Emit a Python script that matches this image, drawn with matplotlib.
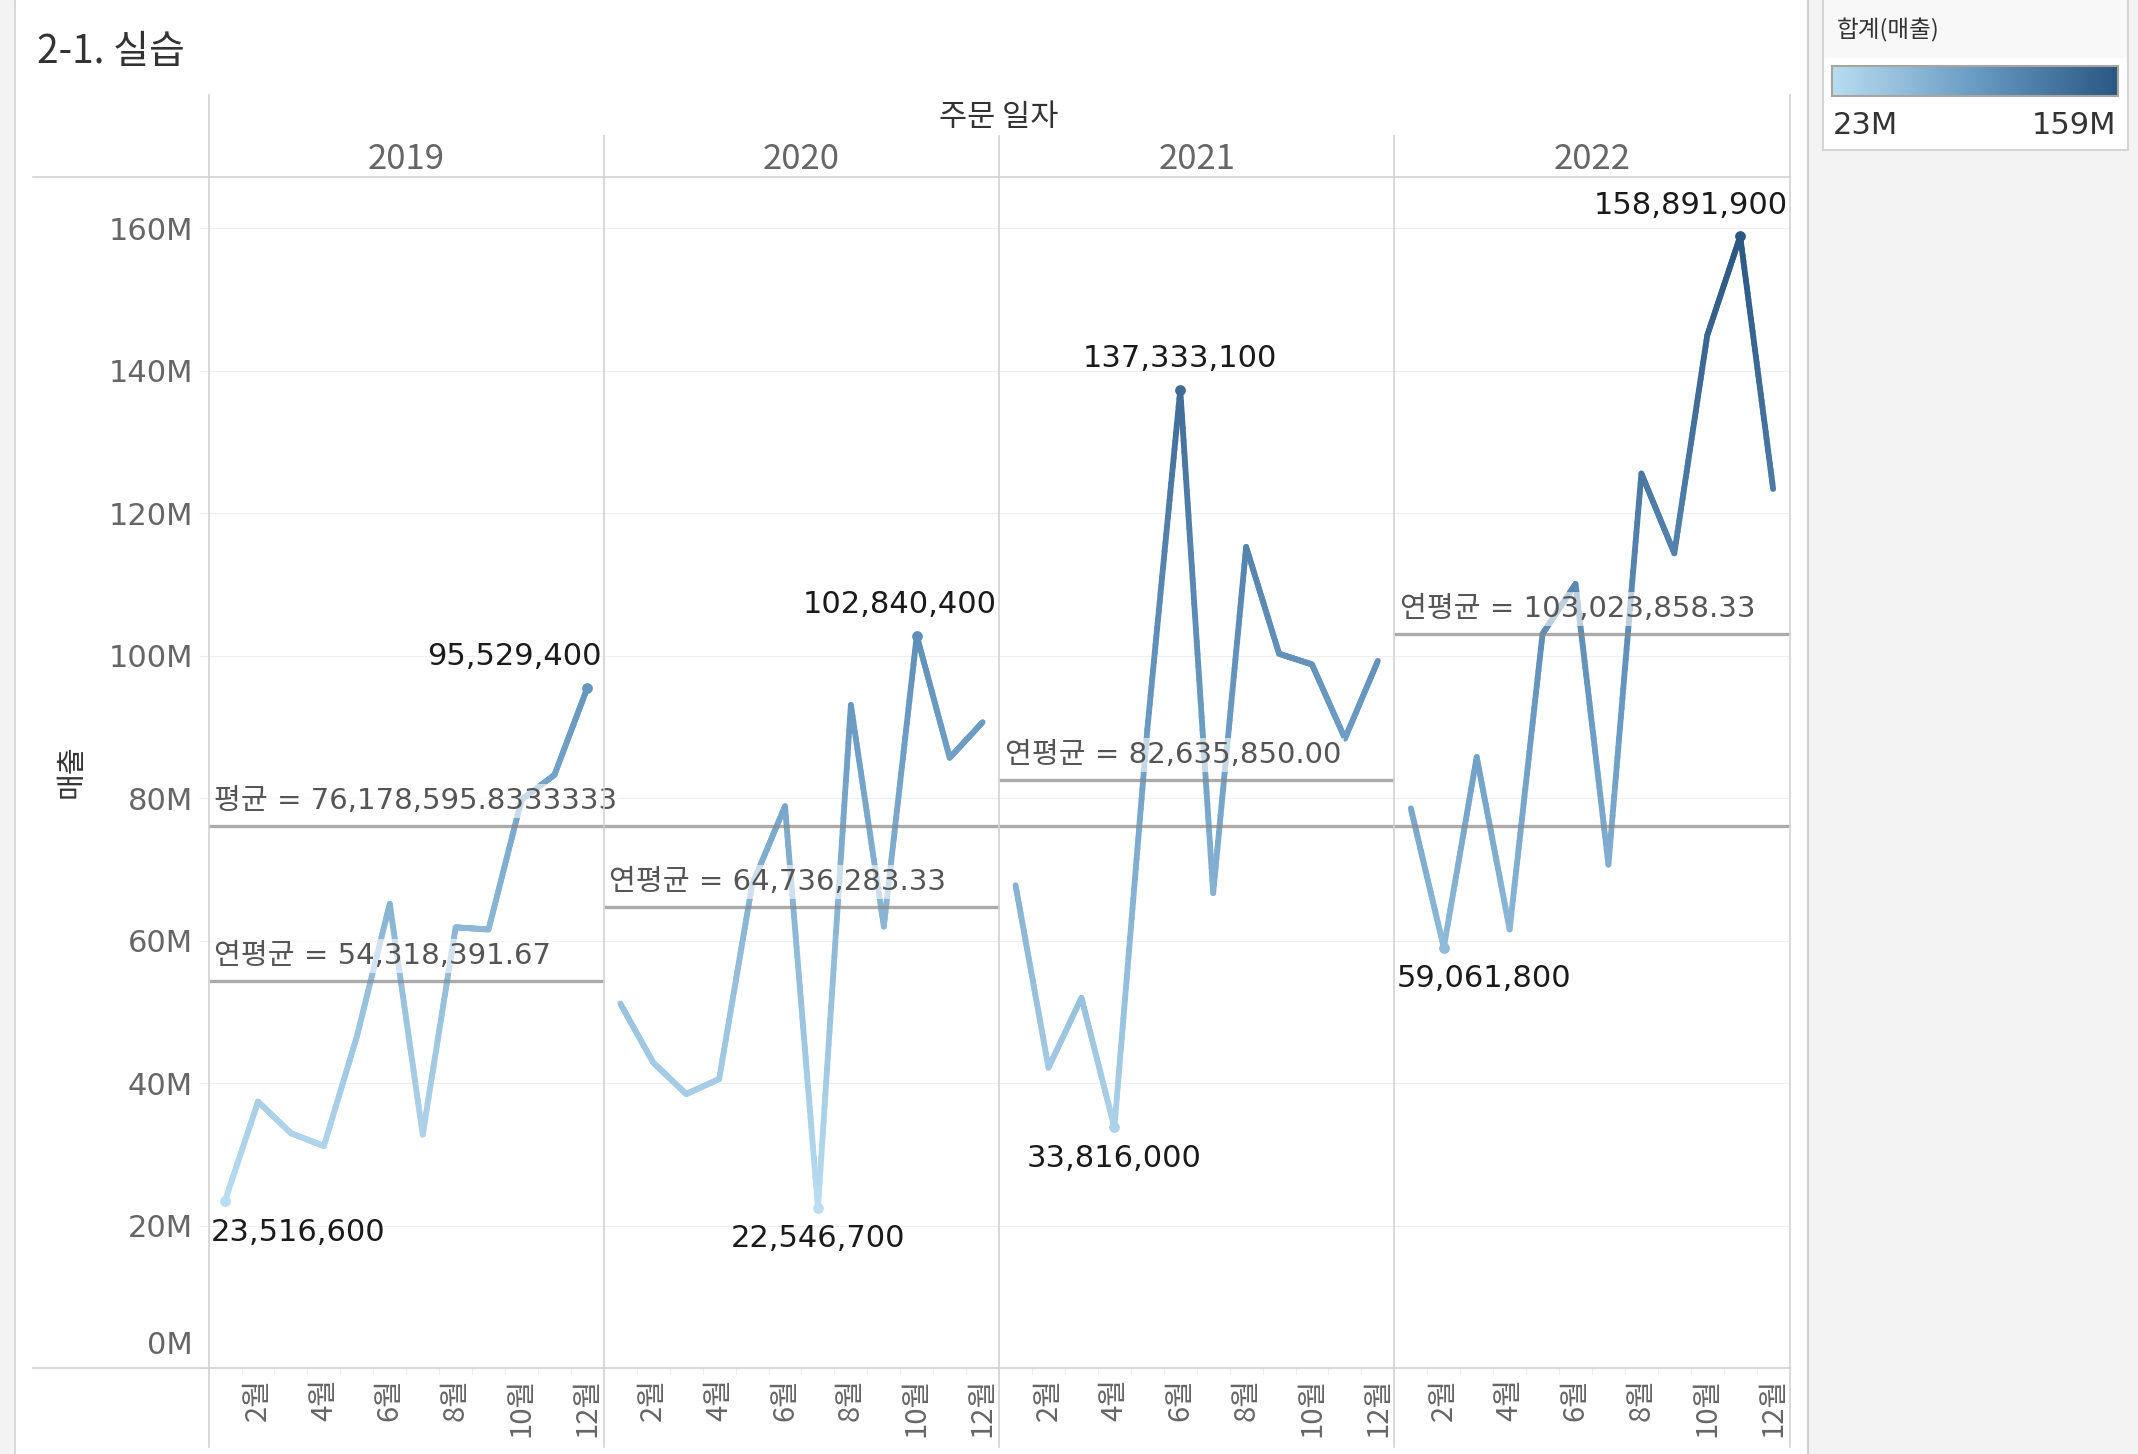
import numpy as np
import matplotlib
matplotlib.use('Agg')
import matplotlib.pyplot as plt
from matplotlib.collections import LineCollection
from matplotlib.colors import LinearSegmentedColormap, Normalize
from matplotlib.lines import Line2D
from matplotlib.patches import Rectangle

plt.rcParams['font.family'] = ['DejaVu Sans', 'Noto Sans CJK KR']

# data (monthly sales per year)
years = ['2019', '2020', '2021', '2022']
month_ticks = [2, 4, 6, 8, 10, 12]
month_labels = ['2월', '4월', '6월', '8월', '10월', '12월']

sales_2019 = [23516600, 37430000, 33000000, 31200000, 46544700, 65200000,
              32800000, 61900000, 61600000, 79800000, 83300000, 95529400]
sales_2020 = [51200000, 42900000, 38500000, 40600000, 67848300, 78900000,
              22546700, 93100000, 62000000, 102840400, 85700000, 90700000]
sales_2021 = [67800000, 42200000, 52000000, 33816000, 89681100, 137333100,
              66700000, 115300000, 100300000, 98800000, 88400000, 99300000]
sales_2022 = [78600000, 59061800, 85800000, 61600000, 103100000, 110100000,
              70700000, 125600000, 114400000, 145000000, 158891900, 123432600]
all_sales = [sales_2019, sales_2020, sales_2021, sales_2022]

W, H = 2138, 1454
fig = plt.figure(figsize=(W / 100, H / 100), dpi=100)


def fx(px):
    return px / W


def fy(py):
    return 1 - py / H


def fline(x0, y0, x1, y1, color='#d2d2d2', lw=1.2):
    fig.add_artist(Line2D([fx(x0), fx(x1)], [fy(y0), fy(y1)], transform=fig.transFigure,
                          color=color, lw=lw))


# background pieces
fig.add_artist(Rectangle((0, 0), fx(14), 1, transform=fig.transFigure, color='#f3f3f3', zorder=0))
fline(15, 0, 15, H, color='#d8d8d8', lw=1.4)
fig.add_artist(Rectangle((fx(1809), 0), 1 - fx(1809), 1, transform=fig.transFigure,
                         color='#f3f3f3', zorder=0))
fline(1808, 0, 1808, H, color='#d0d0d0', lw=1.5)

# main axes
ax_l, ax_r, ax_t, ax_b = 208.6, 1789.6, 176.6, 1368.3
ax = fig.add_axes([fx(ax_l), fy(ax_b), fx(ax_r) - fx(ax_l), (ax_b - ax_t) / H])
ax.set_xlim(0.5, 48.5)
ax.set_ylim(0, 167.28e6)
for s in ax.spines.values():
    s.set_visible(False)

yticks = np.arange(0, 160e6 + 1, 20e6)
for v in yticks[1:]:
    ax.axhline(v, color='#efefef', lw=0.8, zorder=1)
ax.set_yticks(yticks)
ax.set_yticklabels([''] + ['%dM' % (v / 1e6) for v in yticks[1:]])
ax.tick_params(axis='y', length=7.2, width=0.8, color='#ececec', pad=4,
               labelsize=22, labelcolor='#666666')
ax.annotate('0M', xy=(0, 0), xycoords=('axes fraction', 'data'), xytext=(-11.2, 16.5),
            textcoords='offset points', ha='right', va='center', fontsize=22, color='#666666')

xt = [yi * 12 + m for yi in range(len(years)) for m in month_ticks]
ax.set_xticks(xt)
ax.set_xticklabels(month_labels * len(years), rotation=90, family=['Noto Sans CJK KR'])
ax.tick_params(axis='x', length=0, pad=7, labelsize=21, labelcolor='#666666')
ax.set_xticks(np.arange(0.5, 48.6, 1), minor=True)
ax.tick_params(axis='x', which='minor', length=4, width=0.8, color='#ededed')

# colour scale
vmin = min(min(s) for s in all_sales)
vmax = max(max(s) for s in all_sales)
cmap = LinearSegmentedColormap.from_list('tab_blue', ['#b9ddf1', '#6a9bc3', '#2a5783'])
norm = Normalize(vmin, vmax)


def gradient_segments(xs, ys, steps=40):
    segs, vals = [], []
    for i in range(len(xs) - 1):
        tx = np.linspace(xs[i], xs[i + 1], steps + 1)
        ty = np.linspace(ys[i], ys[i + 1], steps + 1)
        for j in range(steps):
            segs.append([(tx[j], ty[j]), (tx[j + 1], ty[j + 1])])
            vals.append((ty[j] + ty[j + 1]) / 2)
    return segs, vals


ref_color = '#888888'
label_anns = []
for yi, vals in enumerate(all_sales):
    xs = yi * 12 + np.arange(1, 13)
    segs, cv = gradient_segments(xs, vals)
    lc = LineCollection(segs, cmap=cmap, norm=norm, linewidths=4.2, capstyle='round', zorder=3)
    lc.set_array(np.array(cv))
    ax.add_collection(lc)

    i_min, i_max = int(np.argmin(vals)), int(np.argmax(vals))
    for i, dy in ((i_min, -22.5), (i_max, 22.5)):
        ax.scatter([xs[i]], [vals[i]], s=60, color=cmap(norm(vals[i])), zorder=4, linewidths=0)
        a = ax.annotate(format(vals[i], ','), xy=(xs[i], vals[i]), xytext=(0, dy),
                        textcoords='offset points', ha='center', va='center',
                        fontsize=22, color='#1a1a1a', zorder=6)
        label_anns.append((a, yi))

    m = np.mean(vals)
    ax.plot([yi * 12 + 0.5, yi * 12 + 12.5], [m, m], color=ref_color, alpha=0.7, lw=2.4,
            solid_capstyle='butt', zorder=4)
    ax.annotate('연평균 = {:,.2f}'.format(m), xy=(yi * 12 + 0.5, m), xytext=(4, 18),
                textcoords='offset points', ha='left', va='center', fontsize=21,
                color='#555555', zorder=5,
                bbox=dict(boxstyle='square,pad=0.1', fc='white', ec='none', alpha=0.6))

overall = np.mean([v for s in all_sales for v in s])
ax.axhline(overall, color=ref_color, alpha=0.7, lw=2.4, zorder=4)
ax.annotate('평균 = {:,.7f}'.format(overall), xy=(0.5, overall), xytext=(4, 18),
            textcoords='offset points', ha='left', va='center', fontsize=21,
            color='#555555', zorder=5, annotation_clip=False,
            bbox=dict(boxstyle='square,pad=0.1', fc='white', ec='none', alpha=0.6))

# frame lines and headers
pw = (ax_r - ax_l) / 4
fline(33, ax_t, ax_r, ax_t)
fline(33, ax_b, ax_r, ax_b)
fline(ax_l, 95, ax_l, 1447)
fline(ax_r, 95, ax_r, 1447)
for k in range(1, 4):
    fline(ax_l + k * pw, 136, ax_l + k * pw, 1447)

fig.text(fx(37), fy(52), '2-1. 실습', fontsize=28, color='#333333', ha='left', va='center',
         family=['Noto Sans CJK KR'])
fig.text(fx((ax_l + ax_r) / 2), fy(118), '주문 일자', fontsize=22, color='#333333',
         ha='center', va='center', family=['Noto Sans CJK KR'])
for k, yr in enumerate(years):
    fig.text(fx(ax_l + (k + 0.5) * pw), fy(159.5), yr, fontsize=25, color='#666666',
             ha='center', va='center', family=['Noto Sans CJK KR'])
fig.text(fx(72), fy(771), '매출', rotation=90, fontsize=21, color='#333333',
         ha='center', va='center', family=['Noto Sans CJK KR'])

# legend
fig.add_artist(Rectangle((fx(1823), fy(150)), fx(2128) - fx(1823), 160 / H,
                         transform=fig.transFigure, fc='white', ec='#d4d4d4', lw=1.5, zorder=1))
fig.add_artist(Rectangle((fx(1824), fy(58)), fx(2127) - fx(1824), 58 / H,
                         transform=fig.transFigure, fc='#f8f8f8', ec='none', zorder=1))
fig.text(fx(1837), fy(30), '합계(매출)', fontsize=17, color='#333333', ha='left', va='center',
         family=['Noto Sans CJK KR'])
cax = fig.add_axes([fx(1832), fy(96), fx(2118) - fx(1832), 30 / H])
cax.set_zorder(5)
cax.imshow(np.linspace(0, 1, 256)[None, :], aspect='auto', cmap=cmap)
cax.set_xticks([])
cax.set_yticks([])
for s in cax.spines.values():
    s.set_color('#a9a59d')
    s.set_linewidth(1.5)
fig.text(fx(1833), fy(126), '%dM' % round(vmin / 1e6), fontsize=22, color='#333333',
         ha='left', va='center')
fig.text(fx(2116), fy(126), '%dM' % round(vmax / 1e6), fontsize=22, color='#333333',
         ha='right', va='center')

# keep min/max labels inside their panel
fig.canvas.draw()
renderer = fig.canvas.get_renderer()
for a, yi in label_anns:
    bb = a.get_window_extent(renderer)
    left = ax.transData.transform((yi * 12 + 0.5, 0))[0] + 2
    right = ax.transData.transform((yi * 12 + 12.5, 0))[0] - 2
    dx = 0
    if bb.x0 < left:
        dx = left - bb.x0
    elif bb.x1 > right:
        dx = right - bb.x1
    a.xyann = (dx * 72 / fig.dpi, a.xyann[1])

fig.savefig('out.png', dpi=100)
